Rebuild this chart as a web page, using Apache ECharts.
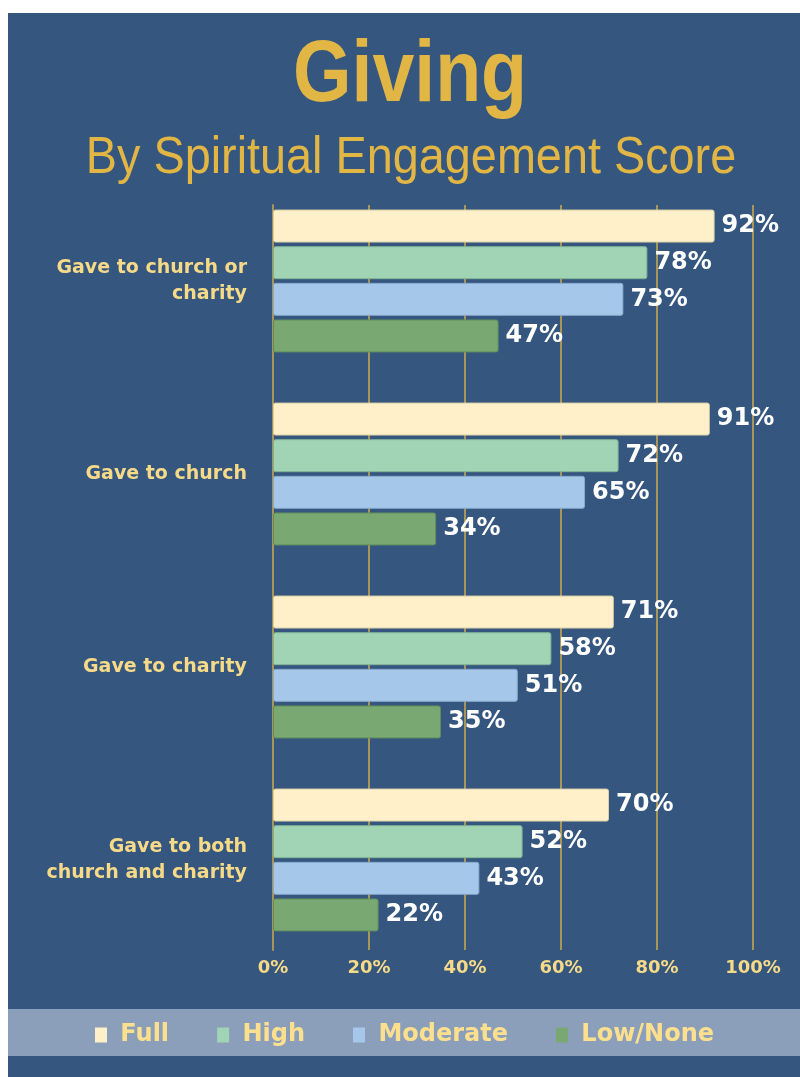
<!DOCTYPE html>
<html><head><meta charset="utf-8">
<script src="https://cdn.jsdelivr.net/npm/echarts@6/dist/echarts.min.js"></script>
<style>html,body{margin:0;padding:0;background:#fff}#c{width:800px;height:1077px}</style>
</head><body><div id="c"></div>
<script>
const categories = ["Gave to church or\ncharity", "Gave to church", "Gave to charity", "Gave to both\nchurch and charity"];
const seriesNames = ["Full", "High", "Moderate", "Low/None"];
const full = [92, 91, 71, 70];
const high = [78, 72, 58, 52];
const moderate = [73, 65, 51, 43];
const lowNone = [47, 34, 35, 22];
const tickValues = [0, 20, 40, 60, 80, 100];

const colors = ['#fff0c9', '#a1d3b5', '#a5c8ea', '#7aa872'];
const borders = ['#d9cfa8', '#7fb396', '#86a9cc', '#5f8d5a'];
const values = [full, high, moderate, lowNone];
const gold = '#a8955a';
const labelYellow = '#f7da88';
const FONT = '"DejaVu Sans"';

const chart = echarts.init(document.getElementById('c'), null, {renderer: 'canvas'});
chart.setOption({
  backgroundColor: '#ffffff',
  animation: false,
  graphic: [
    {type: 'rect', z: -10, shape: {x: 8, y: 13, width: 792, height: 1064}, style: {fill: '#34567f'}},
    {type: 'rect', z: -9, shape: {x: 8, y: 1009, width: 792, height: 47}, style: {fill: '#8b9fba'}},
    {type: 'text', z: 10, x: 410, y: 77, scaleX: 0.855, style: {text: 'Giving', font: 'bold 88px "Liberation Sans"', fill: '#e2b644', textAlign: 'center', textVerticalAlign: 'middle'}},
    {type: 'text', z: 10, x: 411, y: 159, scaleX: 0.9, style: {text: 'By Spiritual Engagement Score', font: '52px "Liberation Sans"', fill: '#e2b644', textAlign: 'center', textVerticalAlign: 'middle'}}
  ],
  legend: {
    data: seriesNames,
    left: 95, top: 1023, padding: 0,
    icon: 'rect', itemWidth: 12, itemHeight: 15, itemGap: 48,
    itemStyle: {borderWidth: 0},
    formatter: name => ' ' + name,
    textStyle: {color: '#fde08e', fontSize: 24, fontWeight: 'bold', fontFamily: FONT}
  },
  grid: [
    {left: 273, right: 47, top: 184.5, bottom: 120.5},
    {left: 273, right: 47, top: 205, bottom: 127}
  ],
  xAxis: [
    {type: 'value', gridIndex: 0, min: 0, max: 100, interval: 20, axisLabel: {show: false}, splitLine: {show: false}, axisLine: {show: false}, axisTick: {show: false}},
    {type: 'value', gridIndex: 1, min: 0, max: 100, interval: 20,
      axisLabel: {show: true, formatter: v => tickValues.includes(v) ? v + '%' : '', color: labelYellow, fontSize: 18, fontWeight: 'bold', fontFamily: FONT, margin: 9},
      splitLine: {show: true, lineStyle: {color: gold, width: 2}}, axisLine: {show: false}, axisTick: {show: false}}
  ],
  yAxis: [
    {type: 'category', gridIndex: 0, data: categories, inverse: true,
      axisLine: {show: false}, axisTick: {show: false},
      axisLabel: {color: labelYellow, fontSize: 19, fontWeight: 'bold', fontFamily: FONT, lineHeight: 26, margin: 26, align: 'right'}},
    {type: 'category', gridIndex: 1, data: categories, inverse: true, axisLabel: {show: false}, axisTick: {show: false}, axisLine: {show: true, lineStyle: {color: gold, width: 2}}}
  ],
  series: seriesNames.map((n, i) => ({
    name: n, type: 'bar', xAxisIndex: 0, yAxisIndex: 0,
    data: values[i], barWidth: 33, barGap: '11%', z: 5,
    itemStyle: {color: colors[i], borderColor: borders[i], borderWidth: 1, borderRadius: 2},
    label: {show: true, position: 'right', distance: 7, formatter: '{c}%', color: '#ffffff', fontSize: 24, fontWeight: 'bold', fontFamily: FONT}
  }))
});
</script></body></html>
